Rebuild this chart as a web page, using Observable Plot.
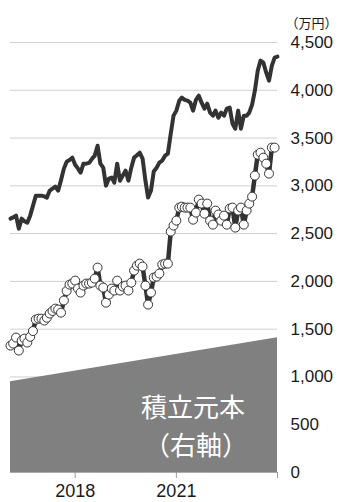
<!DOCTYPE html>
<html><head><meta charset="utf-8">
<script src="https://cdn.jsdelivr.net/npm/d3@7"></script>
<script src="https://cdn.jsdelivr.net/npm/@observablehq/plot@0.6"></script>
<style>body{margin:0;background:#fff;} #chart svg{display:block;}</style>
</head><body><div id="chart"></div>
<script>
// Monthly series starting Feb 2016 (万円)
const startMonth = "2016-02-01";
const seriesUpper = [
  2657,2670,2688,2552,2657,2630,2615,2688,2790,2897,2897,2897,2890,2877,2950,2970,
  2992,2950,3060,3180,3253,3270,3295,3220,3180,3138,3232,3232,3240,3280,3316,3420,
  3232,3190,3002,3075,3086,3033,3232,3054,3107,3159,3054,3190,3295,3320,3347,3285,
  3054,2877,2950,3150,3190,3243,3264,3316,3337,3546,3734,3787,3891,3923,3900,3891,
  3870,3787,3900,3944,3870,3808,3860,3766,3734,3787,3713,3766,3734,3808,3818,3650,
  3598,3787,3598,3734,3734,3766,3850,3996,4205,4310,4289,4184,4100,4257,4341,4352
];
const seriesLower = [
  1328,1350,1412,1276,1380,1401,1360,1420,1480,1600,1610,1610,1590,1620,1663,1690,
  1715,1705,1673,1800,1900,1966,1977,2008,1925,1883,1956,1977,1977,1987,2029,2144,
  1956,1935,1778,1862,1925,1904,2008,1904,1946,1956,1904,1987,2113,2165,2186,2155,
  1956,1757,1883,2040,2050,2082,2176,2186,2186,2521,2584,2636,2772,2782,2772,2772,
  2772,2646,2720,2856,2814,2709,2814,2636,2594,2741,2700,2636,2688,2594,2762,2772,
  2563,2741,2772,2594,2741,2814,2887,3107,3326,3347,3295,3232,3128,3400,3400
];
// Cumulative principal (right axis)
const principalDates = ["2016-02-01", "2024-01-01"];
const principalValues = [950, 1410];
const yTicks = [0, 500, 1000, 1500, 2000, 2500, 3000, 3500, 4000, 4500];
const xTickDates = ["2018-01-01", "2021-01-01", "2024-01-01"];
const xTickLabels = ["2018", "2021", ""];
const unitLabel = "（万円）";
const areaLabelLines = ["積立元本", "（右軸）"];

const t0 = new Date(startMonth);
const upper = seriesUpper.map((v, i) => ({date: d3.utcMonth.offset(t0, i), value: v}));
const lower = seriesLower.map((v, i) => ({date: d3.utcMonth.offset(t0, i), value: v}));
const principal = principalDates.map((d, i) => ({date: new Date(d), value: principalValues[i]}));
const xTicks = xTickDates.map(d => new Date(d));
const labelFor = d => xTickLabels[xTicks.findIndex(t => +t === +d)];

const chart = Plot.plot({
  width: 337, height: 502,
  marginLeft: 10, marginRight: 60, marginTop: 42, marginBottom: 30,
  style: {fontFamily: "'Liberation Sans', Arial, sans-serif", background: "#fff"},
  x: {type: "utc", domain: [new Date(startMonth), new Date("2024-01-01")], label: null},
  y: {domain: [0, 4500], label: null},
  marks: [
    Plot.gridY(yTicks, {stroke: "#cfcfcf", strokeOpacity: 1, strokeWidth: 1}),
    Plot.areaY(principal, {x: "date", y: "value", fill: "#808080"}),
    Plot.ruleY([0], {stroke: "#aaa"}),
    Plot.lineY(upper, {x: "date", y: "value", stroke: "#333", strokeWidth: 4, strokeLinejoin: "round"}),
    Plot.lineY(lower, {x: "date", y: "value", stroke: "#333", strokeWidth: 4.5, strokeLinejoin: "round"}),
    Plot.dot(lower, {x: "date", y: "value", r: 4.5, fill: "white", stroke: "#333", strokeWidth: 1}),
    Plot.axisY(yTicks, {anchor: "right", label: null, tickSize: 0, tickPadding: 13, tickFormat: d3.format(","), fontSize: 17, fill: "#1a1a1a"}),
    Plot.axisX(xTicks, {anchor: "bottom", label: null, tickSize: 6, tickPadding: 6, tickFormat: labelFor, fontSize: 18, stroke: "#999", fill: "#1a1a1a"}),
    Plot.text([unitLabel], {frameAnchor: "top-right", dx: 60, dy: -24, textAnchor: "end", fontSize: 13, fill: "#1a1a1a", fontFamily: "'Noto Sans CJK JP', sans-serif"}),
    Plot.text([areaLabelLines[0]], {x: () => new Date("2021-07-01"), y: () => 672, fontSize: 26, fill: "white", fontFamily: "'Noto Sans CJK JP', sans-serif"}),
    Plot.text([areaLabelLines[1]], {x: () => new Date("2021-08-01"), y: () => 270, fontSize: 26, fill: "white", fontFamily: "'Noto Sans CJK JP', sans-serif"})
  ]
});
document.getElementById("chart").appendChild(chart);
</script>
</body></html>
